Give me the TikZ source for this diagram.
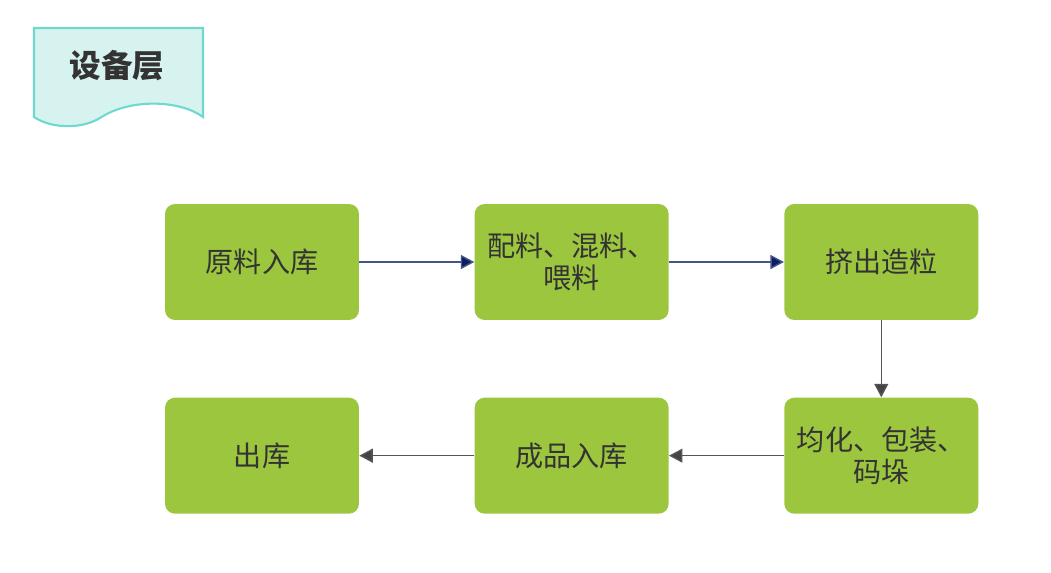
\documentclass[tikz,border=0pt]{standalone}
\usepackage{fontspec}
\setmainfont{Noto Sans CJK SC}
\usetikzlibrary{positioning,arrows.meta}
\definecolor{stagegreen}{HTML}{9DC63F}
\definecolor{labelgray}{HTML}{333333}
\definecolor{tagfill}{HTML}{D6F3EF}
\definecolor{tagline}{HTML}{6FD9CF}
\definecolor{navyline}{HTML}{44538A}
\definecolor{navyhead}{HTML}{0B1F5E}
\definecolor{grayline}{HTML}{555555}

\tikzset{
  stage/.style={rectangle, rounded corners=0.2cm, fill=stagegreen,
    minimum width=3.88cm, minimum height=2.32cm, align=center,
    text=labelgray, font=\fontsize{16}{18}\selectfont},
  navyflow/.style={draw=navyline, thick, -{Triangle[length=0.27cm, width=0.28cm, fill=navyhead]}},
  grayflow/.style={draw=grayline, thick, -{Triangle[length=0.27cm, width=0.28cm, fill=grayline!80!black]}}
}

\begin{document}
\begin{tikzpicture}[x=0.02cm, y=-0.02cm]
\useasboundingbox (0,0) rectangle (1051,572);

% tag
\draw[fill=tagfill, draw=tagline, line width=1.2pt]
  (34,28) -- (203,28) -- (203,117)
  .. controls (180,100) and (130,98) .. (100,118)
  .. controls (80,130) and (50,128) .. (34,117) -- cycle;
\node[text=labelgray, font=\fontsize{18}{20}\selectfont\bfseries] (tag) at (117,66) {设备层};

% top row
\node[stage] (ruku) at (262,262) {原料入库};
\node[stage, right=2.3cm of ruku] (peiliao) {配料、混料、\\喂料};
\node[stage, right=2.3cm of peiliao] (zaoli) {挤出造粒};

% bottom row
\node[stage, below=1.54cm of zaoli] (junhua) {均化、包装、\\码垛};
\node[stage, left=2.3cm of junhua] (chengpin) {成品入库};
\node[stage, left=2.3cm of chengpin] (chuku) {出库};

% connectors
\draw[navyflow] (ruku) -- (peiliao);
\draw[navyflow] (peiliao) -- (zaoli);
\draw[grayflow] (zaoli) -- (junhua);
\draw[grayflow] (junhua) -- (chengpin);
\draw[grayflow] (chengpin) -- (chuku);
\end{tikzpicture}
\end{document}
